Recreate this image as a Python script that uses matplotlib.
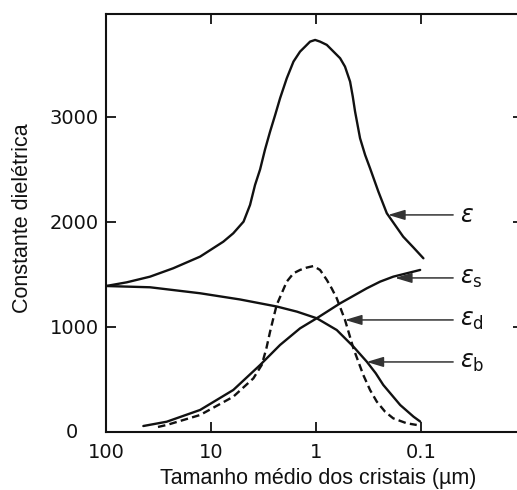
import matplotlib
matplotlib.use("Agg")
import matplotlib.pyplot as plt
from matplotlib.ticker import FixedLocator, NullLocator

plt.rcParams["mathtext.fontset"] = "dejavusans"

# Dielectric constant versus mean crystal size (micrometres)
eps_x = [100, 63.6, 38.1, 22.9, 12.7, 7.64, 6.14, 4.9, 4.25, 3.81, 3.41, 3.06,
         2.74, 2.45, 2.20, 1.90, 1.64, 1.42, 1.27, 1.14, 1.02, 0.916, 0.79,
         0.59, 0.53, 0.474, 0.447, 0.425, 0.381, 0.341, 0.306, 0.255, 0.212,
         0.177, 0.148, 0.118, 0.095]
eps_y = [1390, 1425, 1479, 1559, 1670, 1812, 1892, 2003, 2162, 2352, 2500, 2690,
         2860, 3019, 3178, 3368, 3527, 3622, 3670, 3717, 3733, 3717, 3686,
         3559, 3479, 3336, 3194, 3051, 2797, 2638, 2511, 2289, 2083,
         1971, 1860, 1756, 1654]

eps_s_x = [44.1, 26.4, 12.7, 6.14, 3.41, 2.20, 1.42, 0.985, 0.59, 0.329, 0.245,
           0.184, 0.102]
eps_s_y = [57, 98, 210, 400, 638, 829, 987, 1083, 1225, 1368, 1432, 1479, 1543]

eps_d_x = [32, 26.4, 12.7, 6.14, 3.95, 3.29, 2.97, 2.74, 2.55, 2.37, 1.90, 1.64,
           1.42, 1.23, 1.06, 0.916, 0.79, 0.71, 0.635, 0.53, 0.441, 0.355,
           0.306, 0.264, 0.22, 0.184, 0.137, 0.110]
eps_d_y = [48, 67, 162, 336, 511, 638, 797, 955, 1083, 1210, 1432, 1511,
           1543, 1565, 1580, 1543, 1448, 1368, 1273, 1067, 797, 543,
           400, 289, 193, 130, 83, 67]

eps_b_x = [100, 38.1, 12.7, 5.30, 2.37, 1.52, 0.985, 0.635, 0.441, 0.329, 0.27,
           0.229, 0.19, 0.158, 0.118, 0.102]
eps_b_y = [1390, 1378, 1321, 1262, 1195, 1146, 1083, 971, 813, 670, 559,
           448, 352, 257, 146, 100]

x_ticks = [100, 10, 1, 0.1]
x_tick_labels = ["100", "10", "1", "0.1"]
y_ticks = [1000, 2000, 3000]
y_tick_labels = ["1000", "2000", "3000"]

# curve labels: (text, arrow target x, arrow target y)
curve_labels = [
    (r"$\varepsilon$", 0.206, 2067),
    (r"$\varepsilon_{\mathrm{s}}$", 0.177, 1467),
    (r"$\varepsilon_{\mathrm{d}}$", 0.53, 1067),
    (r"$\varepsilon_{\mathrm{b}}$", 0.33, 667),
]
label_x = 0.0425

W, H = 517, 490
fig = plt.figure(figsize=(W / 100, H / 100), dpi=100)
ax = fig.add_axes([106 / W, 58 / H, 417 / W, 418 / H])

ax.set_xscale("log")
ax.set_xlim(100, 0.0107)
ax.set_ylim(0, 3980)

ink = "#111111"
line_kw = dict(color=ink, lw=1.7, solid_capstyle="round", solid_joinstyle="round")
ax.plot(eps_x, eps_y, **line_kw)
ax.plot(eps_s_x, eps_s_y, **line_kw)
ax.plot(eps_b_x, eps_b_y, **line_kw)
ax.plot(eps_d_x, eps_d_y, color=ink, lw=1.7, linestyle=(0, (3.2, 1.8)),
        dash_joinstyle="round")

for text, tx, ty in curve_labels:
    ax.annotate(text, xy=(tx, ty), xytext=(label_x, ty),
                ha="left", va="center", fontsize=17, color=ink,
                arrowprops=dict(arrowstyle="-|>,head_length=0.6,head_width=0.18",
                                color="#333333", lw=1.1, shrinkA=3, shrinkB=0))

# spines and ticks
for side in ("left", "bottom", "top"):
    ax.spines[side].set_linewidth(1.5)
    ax.spines[side].set_color(ink)
ax.spines["right"].set_visible(False)

ax.xaxis.set_major_locator(FixedLocator(x_ticks))
ax.xaxis.set_minor_locator(NullLocator())
ax.set_xticklabels(x_tick_labels)
ax.yaxis.set_major_locator(FixedLocator(y_ticks))
ax.yaxis.set_minor_locator(NullLocator())
ax.set_yticklabels(y_tick_labels)

ax.tick_params(axis="x", which="major", direction="in", top=True, bottom=True,
               length=7.5, width=1.3, pad=8, labelsize=14, colors=ink)
ax.tick_params(axis="y", which="major", direction="in", left=True, right=True,
               length=7, width=1.3, pad=5, labelsize=14, colors=ink)
for lab in ax.get_xticklabels() + ax.get_yticklabels():
    lab.set_family("DejaVu Sans")

# zero of the y axis, set a little left of the other labels
ax.text(-34 / 417, 0, "0", transform=ax.transAxes, ha="center", va="center",
        fontsize=14, family="DejaVu Sans", color=ink)

fig.text(23 / W, 1 - 218 / H, "Constante dielétrica", rotation=90,
         ha="center", va="center", fontsize=15.5, family="Liberation Sans", color=ink)
fig.text(318 / W, 1 - 478 / H, "Tamanho médio dos cristais (µm)",
         ha="center", va="center", fontsize=15.5, family="Liberation Sans", color=ink)

fig.savefig("out.png", dpi=100)
